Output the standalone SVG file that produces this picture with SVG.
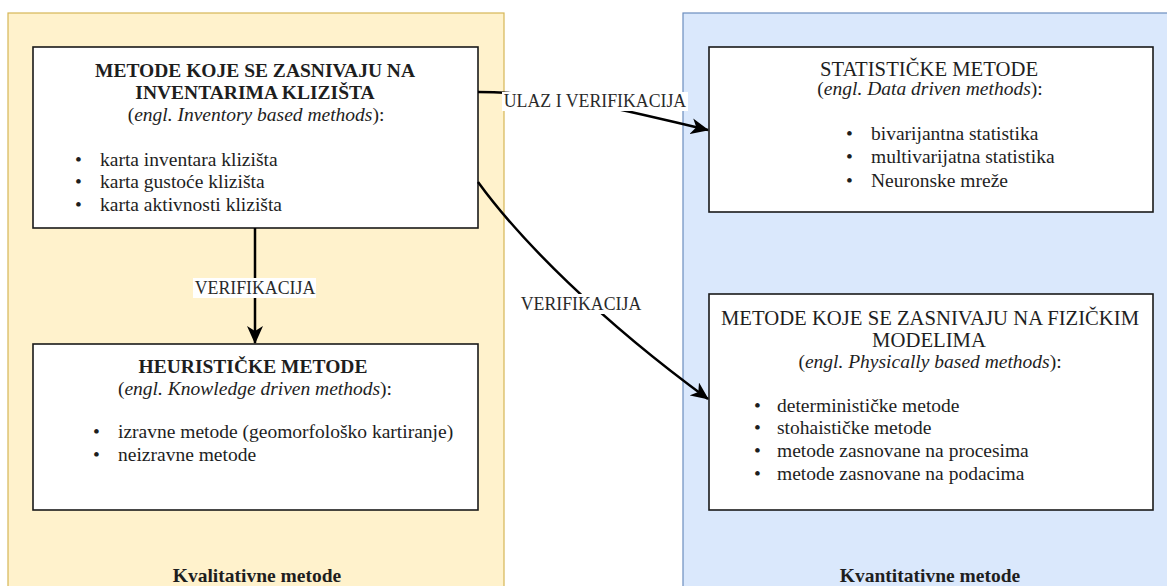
<svg xmlns="http://www.w3.org/2000/svg" width="1167" height="586" viewBox="0 0 1167 586">
  <style>
    text { font-family: "Liberation Serif", "Times New Roman", serif; fill: #1e1e1e; }
    .t { font-size: 19.5px; font-weight: bold; text-anchor: middle; }
    .tr { font-size: 20.7px; text-anchor: middle; }
    .s { font-size: 19.5px; text-anchor: middle; }
    .b { font-size: 19.5px; }
    .lbl { font-size: 17.8px; text-anchor: middle; fill: #2a2a2a; }
    .box { fill: #ffffff; stroke: #1a1a1a; stroke-width: 1.6; }
    .edge { fill: none; stroke: #000000; stroke-width: 2.5; }
    .lblbg { fill: #ffffff; }
    i, .it { font-style: italic; }
  </style>
  <defs>
    <marker id="arr" markerUnits="userSpaceOnUse" markerWidth="18" markerHeight="16" refX="17" refY="8" orient="auto" viewBox="0 0 18 16">
      <path d="M0,0 L18,8 L0,16 L5,8 z" fill="#000000"/>
    </marker>
  </defs>

  <g id="container-kvalitativne">
    <rect x="8" y="13" width="496" height="600" fill="#fff2cc" stroke="#d6b656" stroke-width="1.2"/>
    <text class="t" x="257" y="582">Kvalitativne metode</text>
  </g>
  <g id="container-kvantitativne">
    <rect x="683" y="13" width="500" height="600" fill="#dae8fc" stroke="#6c8ebf" stroke-width="1.2"/>
    <text class="t" x="930" y="582">Kvantitativne metode</text>
  </g>

  <g id="node-inventar">
    <rect class="box" x="33" y="47" width="445" height="181"/>
    <text class="t" x="255" y="77">METODE KOJE SE ZASNIVAJU NA</text>
    <text class="t" x="255" y="99">INVENTARIMA KLIZIŠTA</text>
    <text class="s" x="256" y="121">(<tspan class="it">engl. Inventory based methods</tspan>):</text>
    <text class="b" x="75" y="166">•</text>
    <text class="b" x="100" y="166">karta inventara klizišta</text>
    <text class="b" x="75" y="188">•</text>
    <text class="b" x="100" y="188">karta gustoće klizišta</text>
    <text class="b" x="75" y="211">•</text>
    <text class="b" x="100" y="211">karta aktivnosti klizišta</text>
  </g>

  <g id="node-heuristicke">
    <rect class="box" x="33" y="344" width="445" height="166"/>
    <text class="t" x="253" y="373">HEURISTIČKE METODE</text>
    <text class="s" x="255" y="395">(<tspan class="it">engl. Knowledge driven methods</tspan>):</text>
    <text class="b" x="93" y="438">•</text>
    <text class="b" x="118" y="438">izravne metode (geomorfološko kartiranje)</text>
    <text class="b" x="93" y="461">•</text>
    <text class="b" x="118" y="461">neizravne metode</text>
  </g>

  <g id="node-statisticke">
    <rect class="box" x="709" y="47" width="444" height="165"/>
    <text class="tr" x="929" y="76">STATISTIČKE METODE</text>
    <text class="s" x="930" y="95">(<tspan class="it">engl. Data driven methods</tspan>):</text>
    <text class="b" x="846" y="140">•</text>
    <text class="b" x="871" y="140">bivarijantna statistika</text>
    <text class="b" x="846" y="163">•</text>
    <text class="b" x="871" y="163">multivarijatna statistika</text>
    <text class="b" x="846" y="187">•</text>
    <text class="b" x="871" y="187">Neuronske mreže</text>
  </g>

  <g id="node-fizicki">
    <rect class="box" x="709" y="294" width="444" height="216"/>
    <text class="tr" x="930" y="325">METODE KOJE SE ZASNIVAJU NA FIZIČKIM</text>
    <text class="tr" x="929" y="347">MODELIMA</text>
    <text class="s" x="930" y="368">(<tspan class="it">engl. Physically based methods</tspan>):</text>
    <text class="b" x="754" y="412">•</text>
    <text class="b" x="777" y="412">determinističke metode</text>
    <text class="b" x="754" y="434">•</text>
    <text class="b" x="777" y="434">stohaističke metode</text>
    <text class="b" x="754" y="457">•</text>
    <text class="b" x="777" y="457">metode zasnovane na procesima</text>
    <text class="b" x="754" y="480">•</text>
    <text class="b" x="777" y="480">metode zasnovane na podacima</text>
  </g>

  <g id="connectors">
    <path class="edge" d="M255,228 L255,343" marker-end="url(#arr)"/>
    <rect class="lblbg" x="193" y="278" width="123" height="20"/>
    <text class="lbl" x="255" y="294">VERIFIKACIJA</text>

    <path class="edge" d="M478,92 C560,92 630,112 708,130" marker-end="url(#arr)"/>
    <rect class="lblbg" x="502" y="92" width="186" height="19"/>
    <text class="lbl" x="595" y="107">ULAZ I VERIFIKACIJA</text>

    <path class="edge" d="M478,182 C520,240 600,320 708,399" marker-end="url(#arr)"/>
    <rect class="lblbg" x="518" y="294" width="126" height="20"/>
    <text class="lbl" x="581" y="310">VERIFIKACIJA</text>
  </g>
</svg>
